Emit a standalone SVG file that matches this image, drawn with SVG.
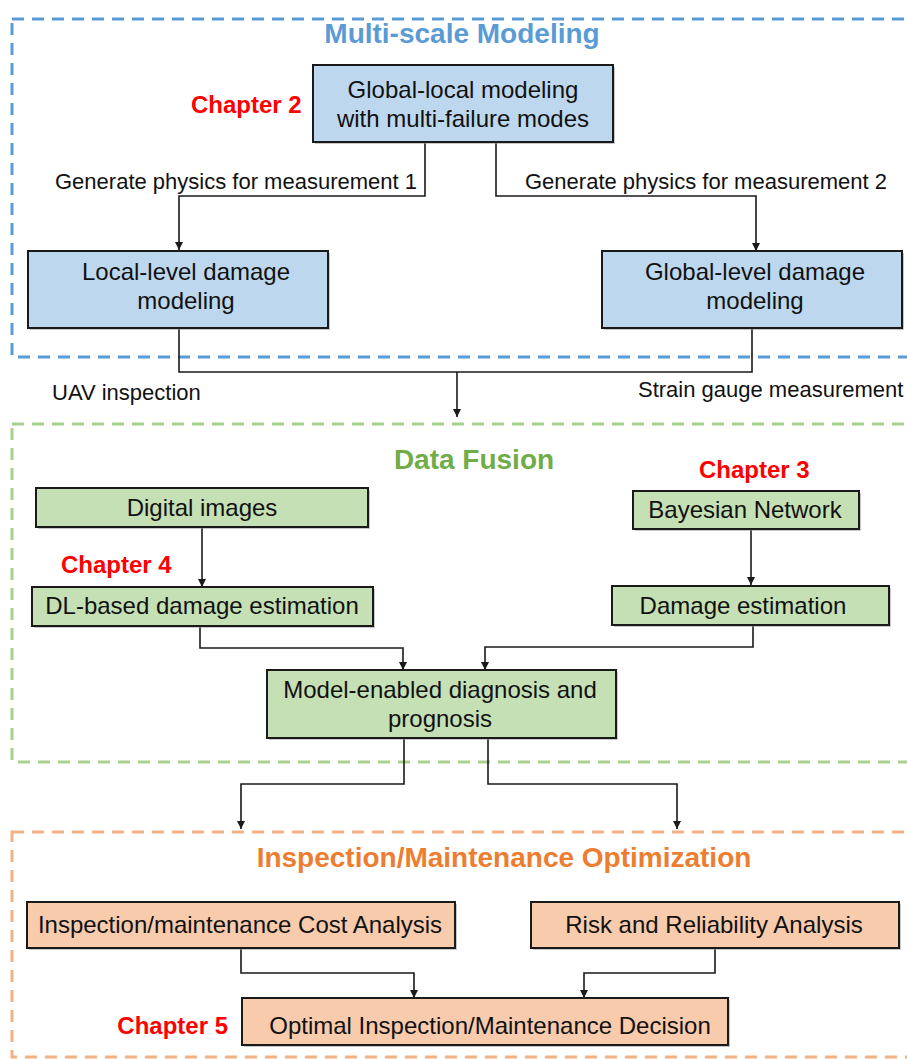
<svg xmlns="http://www.w3.org/2000/svg" width="907" height="1059" viewBox="0 0 907 1059">
  <style>
    text { font-family: "Liberation Sans", Arial, sans-serif; fill: #111; }
    .lbl { font-size: 24px; text-anchor: middle; }
    .note { font-size: 22px; }
    .title { font-size: 28px; font-weight: bold; text-anchor: middle; }
    .chap { font-size: 24px; font-weight: bold; fill: #FF0000; }
    .box { stroke: #1a1a1a; stroke-width: 2; }
    .shadow { fill: #9a9a9a; opacity: 0.55; }
    .blue { fill: #BDD7EE; }
    .green { fill: #C5E0B4; }
    .orange { fill: #F8CBAD; }
    .frame { fill: none; stroke-width: 3; stroke-dasharray: 12 8; }
    .conn path { fill: none; stroke: #1a1a1a; stroke-width: 1.6; }
  </style>
  <defs>
    <marker id="arrow" viewBox="0 0 10 10" refX="10" refY="5" markerWidth="8" markerHeight="8" markerUnits="userSpaceOnUse" orient="auto">
      <path d="M0,0 L10,5 L0,10 Z" fill="#1a1a1a"/>
    </marker>
  </defs>

  <rect width="907" height="1059" fill="#ffffff"/>

  <!-- section frames -->
  <g id="frame-multiscale">
    <rect class="frame" x="12" y="19" width="910" height="338" stroke="#5B9BD5"/>
    <text class="title" x="462" y="43" style="fill:#5B9BD5">Multi-scale Modeling</text>
  </g>
  <g id="frame-fusion">
    <rect class="frame" x="12" y="424" width="910" height="338" stroke="#A9D18E"/>
    <text class="title" x="474" y="469" style="fill:#70AD47">Data Fusion</text>
  </g>
  <g id="frame-optimization">
    <rect class="frame" x="12" y="832" width="910" height="225" stroke="#F4B183"/>
    <text class="title" x="504" y="867" style="fill:#ED7D31">Inspection/Maintenance Optimization</text>
  </g>

  <!-- connectors -->
  <g id="connectors" class="conn">
    <path d="M425,142 V196 H179 V250" marker-end="url(#arrow)"/>
    <path d="M496,142 V196 H756 V251" marker-end="url(#arrow)"/>
    <path d="M179,328 V372 H752 V328"/>
    <path d="M457,372 V417" marker-end="url(#arrow)"/>
    <path d="M202,527 V587" marker-end="url(#arrow)"/>
    <path d="M751,529 V585" marker-end="url(#arrow)"/>
    <path d="M200,626 V648 H403 V670" marker-end="url(#arrow)"/>
    <path d="M753,625 V647 H485 V670" marker-end="url(#arrow)"/>
    <path d="M404,738 V784 H241 V829" marker-end="url(#arrow)"/>
    <path d="M488,738 V784 H677 V829" marker-end="url(#arrow)"/>
    <path d="M241,948 V973 H414 V998" marker-end="url(#arrow)"/>
    <path d="M715,948 V973 H584 V998" marker-end="url(#arrow)"/>
  </g>

  <!-- connector labels -->
  <g id="connector-labels">
    <text class="note" x="55" y="189">Generate physics for measurement 1</text>
    <text class="note" x="525" y="189">Generate physics for measurement 2</text>
    <text class="note" x="52" y="400">UAV inspection</text>
    <text class="note" x="638" y="397">Strain gauge measurement</text>
  </g>

  <!-- chapter tags -->
  <g id="chapters">
    <text class="chap" x="191" y="113">Chapter 2</text>
    <text class="chap" x="699" y="478">Chapter 3</text>
    <text class="chap" x="61" y="573">Chapter 4</text>
    <text class="chap" x="228" y="1034" text-anchor="end">Chapter 5</text>
  </g>

  <!-- nodes -->
  <g id="node-global-local">
    <rect class="shadow" x="315" y="67" width="300" height="77"/>
    <rect class="box blue" x="313" y="65" width="300" height="77"/>
    <text class="lbl" x="463" y="98">Global-local modeling</text>
    <text class="lbl" x="463" y="127">with multi-failure modes</text>
  </g>
  <g id="node-local-level">
    <rect class="shadow" x="30" y="253" width="300" height="77"/>
    <rect class="box blue" x="28" y="251" width="300" height="77"/>
    <text class="lbl" x="186" y="280">Local-level damage</text>
    <text class="lbl" x="186" y="309">modeling</text>
  </g>
  <g id="node-global-level">
    <rect class="shadow" x="604" y="253" width="300" height="77"/>
    <rect class="box blue" x="602" y="251" width="300" height="77"/>
    <text class="lbl" x="755" y="280">Global-level damage</text>
    <text class="lbl" x="755" y="309">modeling</text>
  </g>
  <g id="node-digital-images">
    <rect class="shadow" x="38" y="490" width="332" height="39"/>
    <rect class="box green" x="36" y="488" width="332" height="39"/>
    <text class="lbl" x="202" y="516">Digital images</text>
  </g>
  <g id="node-bayesian">
    <rect class="shadow" x="635" y="493" width="226" height="38"/>
    <rect class="box green" x="633" y="491" width="226" height="38"/>
    <text class="lbl" x="745" y="518">Bayesian Network</text>
  </g>
  <g id="node-dl-estimation">
    <rect class="shadow" x="34" y="589" width="341" height="39"/>
    <rect class="box green" x="32" y="587" width="341" height="39"/>
    <text class="lbl" x="202" y="614">DL-based damage estimation</text>
  </g>
  <g id="node-damage-estimation">
    <rect class="shadow" x="614" y="588" width="277" height="39"/>
    <rect class="box green" x="612" y="586" width="277" height="39"/>
    <text class="lbl" x="743" y="614">Damage estimation</text>
  </g>
  <g id="node-diagnosis">
    <rect class="shadow" x="269" y="672" width="349" height="68"/>
    <rect class="box green" x="267" y="670" width="349" height="68"/>
    <text class="lbl" x="440" y="698">Model-enabled diagnosis and</text>
    <text class="lbl" x="440" y="727">prognosis</text>
  </g>
  <g id="node-cost">
    <rect class="shadow" x="29" y="904" width="428" height="46"/>
    <rect class="box orange" x="27" y="902" width="428" height="46"/>
    <text class="lbl" x="240" y="933">Inspection/maintenance Cost Analysis</text>
  </g>
  <g id="node-risk">
    <rect class="shadow" x="533" y="904" width="368" height="46"/>
    <rect class="box orange" x="531" y="902" width="368" height="46"/>
    <text class="lbl" x="714" y="933">Risk and Reliability Analysis</text>
  </g>
  <g id="node-decision">
    <rect class="shadow" x="244" y="1000" width="486" height="47"/>
    <rect class="box orange" x="242" y="998" width="486" height="47"/>
    <text class="lbl" x="490" y="1034">Optimal Inspection/Maintenance Decision</text>
  </g>
</svg>
